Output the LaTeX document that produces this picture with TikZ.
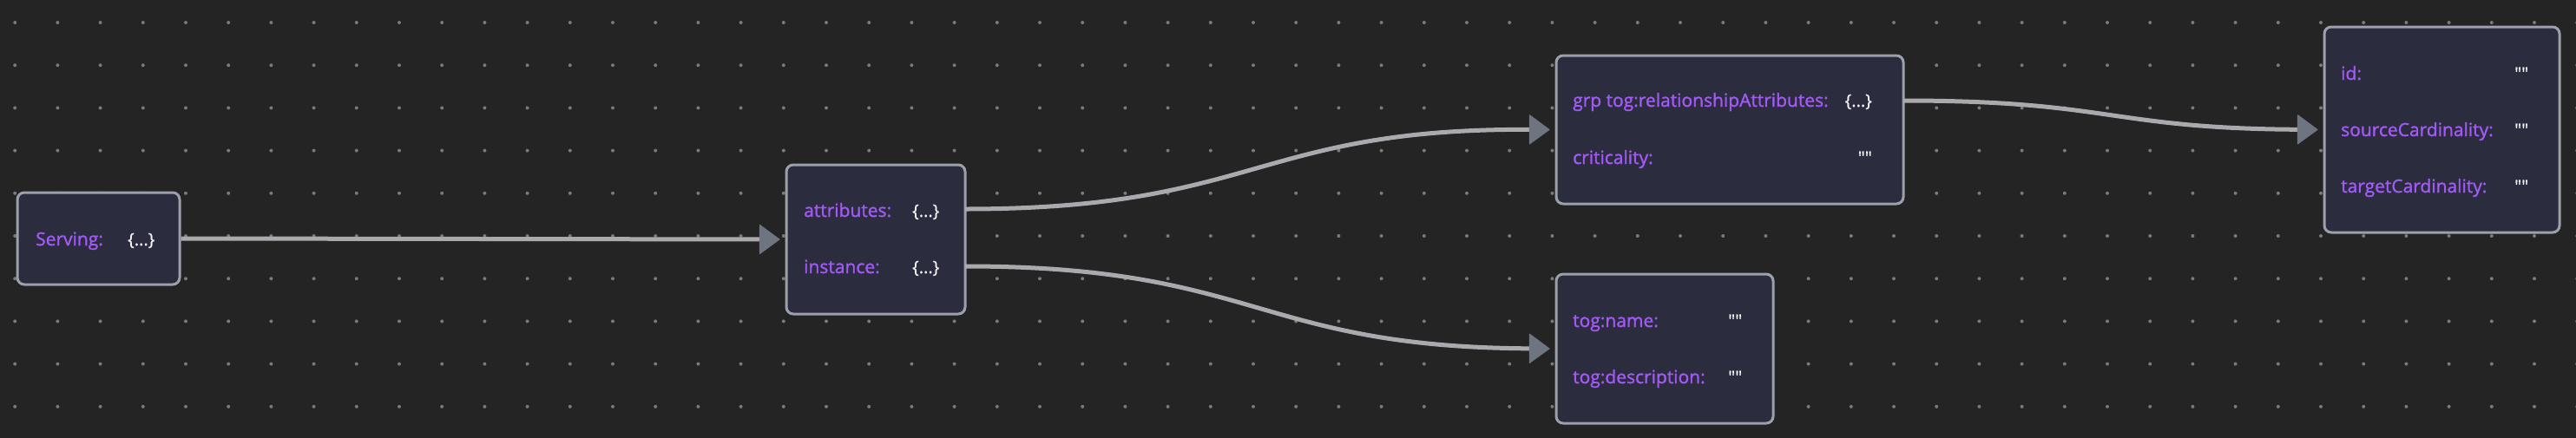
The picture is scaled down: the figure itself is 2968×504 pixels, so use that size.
\documentclass[tikz,border=0pt]{standalone}
\usepackage{fontspec}
\setmainfont{Open Sans}
\newfontfamily\keyfont[FakeBold=1.4]{Open Sans}
\newfontfamily\valfont[FakeBold=0.6]{Open Sans}
\usetikzlibrary{arrows.meta}
\definecolor{bg}{HTML}{242424}
\definecolor{dotc}{HTML}{7A7A7A}
\definecolor{boxfill}{HTML}{2B2C3E}
\definecolor{boxline}{HTML}{9CA0AA}
\definecolor{keyc}{HTML}{A259F5}
\definecolor{valc}{HTML}{F4F4F4}
\definecolor{edgec}{HTML}{AAAAAE}
\definecolor{tipc}{HTML}{6E7480}
\newcommand{\emptystr}{\char34\char34}
\begin{document}
\begin{tikzpicture}[x=1pt,y=-1pt,
  card/.style={draw=boxline, fill=boxfill, line width=3pt, rounded corners=8pt,
    anchor=north west, inner sep=0pt},
  key/.style={anchor=base west, text=keyc, inner sep=0pt,
    font=\keyfont\fontsize{21}{25}\selectfont},
  val/.style={anchor=base west, text=valc, inner sep=0pt,
    font=\valfont\fontsize{20}{24}\selectfont},
  link/.style={draw=edgec, line width=5pt, shorten >=6pt,
    -{Triangle[length=24pt,width=35pt,color=tipc,fill=tipc,line width=1pt,round]}}
]
\useasboundingbox (0,0) rectangle (2968,504);
\fill[bg] (-10,-10) rectangle (2978,514);
\foreach \i in {0,...,60}{
  \foreach \j in {0,...,9}{
    \fill[dotc] (17.2+49.2*\i, 26+49.2*\j) circle (2pt);
  }
}
% cards
\node[card, minimum width=187pt, minimum height=106pt] (serving) at (18.5,220.5) {};
\node[card, minimum width=206pt, minimum height=172pt] (svc) at (904.5,188.5) {};
\node[card, minimum width=400pt, minimum height=171pt] (rel) at (1791.5,62.5) {};
\node[card, minimum width=250pt, minimum height=172pt] (names) at (1791.5,314.5) {};
\node[card, minimum width=271pt, minimum height=237pt] (ids) at (2676.5,29.5) {};
% texts
\node[key] (k1) at (41,283) {Serving:};
\node[val] (v1) at (147,283) {\{...\}};
\node[key] (k2) at (926,250) {attributes:};
\node[val] (v2) at (1051,250) {\{...\}};
\node[key] (k3) at (926,315) {instance:};
\node[val] (v3) at (1051,315) {\{...\}};
\node[key] (k4) at (1812,123) {grp tog:relationshipAttributes:};
\node[val, anchor=base east] (v4) at (2157,123) {\{...\}};
\node[key] (k5) at (1812,189) {criticality:};
\node[val, anchor=base east] (v5) at (2157,189) {\emptystr};
\node[key] (k6) at (1812,377) {tog:name:};
\node[val] (v6) at (1991,377) {\emptystr};
\node[key] (k7) at (1812,442) {tog:description:};
\node[val] (v7) at (1991,442) {\emptystr};
\node[key] (k8) at (2697,92) {id:};
\node[val] (v8) at (2897,92) {\emptystr};
\node[key] (k9) at (2697,157) {sourceCardinality:};
\node[val] (v9) at (2897,157) {\emptystr};
\node[key] (k10) at (2697,222) {targetCardinality:};
\node[val] (v10) at (2897,222) {\emptystr};
% ports
\coordinate (svc-a) at (1112,241);
\coordinate (svc-i) at (1112,307);
\coordinate (rel-r) at (2193,116);
% connectors
\draw[link] (serving.east) -- (svc.west);
\draw[link] (svc-a) .. controls (1448,241) and (1448,148) .. (rel.west);
\draw[link] (svc-i) .. controls (1448,307) and (1448,400) .. (names.west);
\draw[link] (rel-r) .. controls (2431,116) and (2431,148) .. (ids.west);
\end{tikzpicture}
\end{document}
